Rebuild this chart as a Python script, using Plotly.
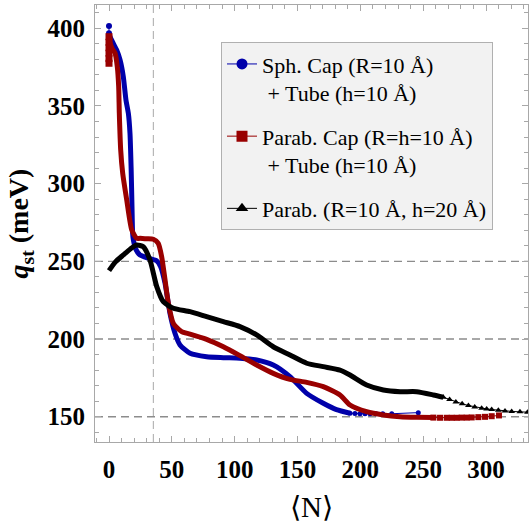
import plotly.graph_objects as go

# ---------------- data ----------------
# Sph. Cap (R=10 Å) + Tube (h=10 Å)  -- blue
blue_head_N = [0.0, 0.0]
blue_head_q = [401.5, 396.8]
blue_N = [0.0, 0.8, 3.4, 6.1, 8.8, 11.4, 13.5, 15.4, 16.7, 17.6, 18.3, 18.8, 19.4, 21.5,
          24.7, 31.3, 37.9, 41.1, 44.6, 48.5, 52.5, 56.5, 64.5, 77.7, 91.0, 104.2,
          117.5, 130.7, 144.0, 157.3, 170.5, 181.0, 191.8]
blue_q = [396.8, 394.6, 390.3, 386.0, 379.6, 368.8, 353.8, 345.3, 332.4, 310.0, 285.0,
          268.0, 263.7, 257.5, 254.0, 252.0, 250.4, 246.6, 235.9, 216.6, 203.7, 196.2,
          190.8, 188.6, 188.0, 187.6, 186.5, 183.3, 175.8, 165.0, 158.6, 154.5, 152.2]
blue_tail_N = [191.8, 195.7, 199.7, 203.7, 207.7, 212.5, 217.8, 225.0, 246.1]
blue_tail_q = [152.2, 152.0, 151.9, 151.9, 151.9, 151.9, 151.9, 151.9, 152.6]

# Parab. Cap (R=h=10 Å) + Tube (h=10 Å)  -- red
red_head_N = [0.0, 0.0, 0.0, 0.0, 0.0, 0.0]
red_head_q = [394.6, 391.0, 387.5, 384.0, 380.5, 377.5]
red_N = [0.3, 2.5, 4.8, 6.6, 7.7, 8.2, 9.3, 10.9, 14.1, 18.1, 22.0, 24.7, 30.0, 35.3,
         39.2, 41.9, 44.6, 47.2, 51.2, 57.8, 64.5, 77.7, 91.0, 104.2, 117.5, 130.7,
         144.0, 157.3, 170.5, 183.8, 191.8, 205.0, 218.3, 231.6, 244.8, 258.1]
red_q = [392.0, 387.0, 384.0, 375.3, 362.4, 345.3, 321.7, 306.7, 289.5, 270.2, 264.8,
         264.8, 264.5, 264.2, 261.6, 253.0, 238.0, 223.0, 210.0, 204.7, 203.2, 199.8,
         195.0, 189.3, 183.3, 177.9, 174.0, 172.1, 169.3, 164.0, 157.5, 153.2, 151.1,
         150.0, 149.6, 149.4]
red_tail_N = [258.1, 263.4, 268.7, 272.7, 276.7, 280.6, 284.6, 288.6, 293.9, 299.2,
              304.5, 310.3]
red_tail_q = [149.4, 149.3, 149.3, 149.3, 149.3, 149.4, 149.4, 149.5, 149.7, 149.9,
              150.3, 150.8]

# Parab. (R=10 Å, h=20 Å)  -- black
black_N = [0.0, 5.0, 11.4, 17.0, 22.0, 27.3, 32.6, 38.0, 43.2, 51.2, 64.5, 77.7, 91.0,
           104.2, 117.5, 130.7, 144.0, 157.3, 170.5, 183.8, 191.8, 205.0, 218.3, 231.6,
           244.8, 258.1, 266.0]
black_q = [244.0, 249.5, 254.1, 258.0, 260.5, 259.4, 250.9, 233.7, 224.0, 219.8, 217.6,
           214.4, 211.2, 208.0, 202.6, 195.0, 189.7, 184.4, 182.2, 180.0, 176.8, 170.4,
           167.2, 166.1, 166.1, 164.0, 162.5]
black_tail_N = [266.0, 271.0, 276.0, 281.0, 286.0, 291.0, 296.5, 300.5, 304.5, 309.8,
                315.1, 320.4, 327.0, 333.0]
black_tail_q = [162.5, 161.0, 159.5, 158.3, 157.2, 156.3, 155.5, 155.0, 154.6, 154.1,
                153.7, 153.4, 153.1, 152.9]

ref_q = [150, 200, 250]      # horizontal dashed reference lines
ref_N = 35.3                 # vertical dashed reference line

names = ["Sph. Cap (R=10 Å)<br>\u00a0+ Tube (h=10 Å)",
         "Parab. Cap (R=h=10 Å)<br>\u00a0+ Tube (h=10 Å)",
         "Parab. (R=10 Å, h=20 Å)"]
colors = ["#0000aa", "#990000", "#000000"]
symbols = ["circle", "square", "triangle-up"]

FONT = "Liberation Serif"

fig = go.Figure()

# reference lines
for q in ref_q:
    fig.add_shape(type="line", xref="paper", x0=0, x1=1, yref="y", y0=q, y1=q,
                  line=dict(color="#8c8c8c", width=1.4, dash="8px,5px"), layer="below")
fig.add_shape(type="line", xref="x", x0=ref_N, x1=ref_N, yref="paper", y0=0, y1=1,
              line=dict(color="#b0b0b0", width=1.1, dash="8px,5px"), layer="below")

series = [
    (blue_head_N, blue_head_q, blue_N, blue_q, blue_tail_N, blue_tail_q, 5),
    (red_head_N, red_head_q, red_N, red_q, red_tail_N, red_tail_q, 6),
    ([], [], black_N, black_q, black_tail_N, black_tail_q, 6),
]

for i, (hN, hq, bN, bq, tN, tq, ms) in enumerate(series):
    c = colors[i]
    # dense part (markers packed into a thick band)
    fig.add_trace(go.Scatter(x=bN, y=bq, mode="lines", showlegend=False,
                             line=dict(color=c, width=5, shape="spline", smoothing=0.6),
                             hoverinfo="skip"))
    # sparse tail: thin line + markers
    fig.add_trace(go.Scatter(x=tN, y=tq, mode="lines+markers", showlegend=False,
                             line=dict(color=c, width=1),
                             marker=dict(symbol=symbols[i], size=ms, color=c)))
    if hN:
        fig.add_trace(go.Scatter(x=hN, y=hq, mode="lines+markers", showlegend=False,
                                 line=dict(color=c, width=1),
                                 marker=dict(symbol=symbols[i], size=ms + 1, color=c)))
    # legend entry
    fig.add_trace(go.Scatter(x=[None], y=[None], mode="lines+markers", name=names[i],
                             legendgroup=f"g{i}",
                             line=dict(color=c, width=1),
                             marker=dict(symbol=symbols[i], size=11, color=c)))

axis_common = dict(
    showline=True, linecolor="#a8a8a8", linewidth=1, mirror="ticks",
    ticks="inside", ticklen=6, tickwidth=1, tickcolor="#a8a8a8",
    minor=dict(ticks="inside", ticklen=4, tickwidth=1, tickcolor="#a8a8a8", dtick=10),
    showgrid=False, zeroline=False, automargin=False,
    tickfont=dict(family=FONT, size=25, color="black", weight="bold"),
)

fig.update_layout(
    width=529, height=525,
    margin=dict(l=95, r=1, t=5, b=83, autoexpand=False),
    paper_bgcolor="white", plot_bgcolor="white",
    xaxis=dict(range=[-11.14, 333.4], tick0=0, dtick=50, ticklabelstandoff=5,
               title=dict(text="⟨N⟩", font=dict(family=FONT, size=29, color="black"),
                          standoff=14),
               **axis_common),
    yaxis=dict(range=[133.7, 415.0], tick0=0, dtick=50, ticklabelstandoff=4,
               title=dict(text="<i>q</i><sub>st</sub> (meV)",
                          font=dict(family=FONT, size=28, color="black", weight="bold"),
                          standoff=10),
               **axis_common),
    legend=dict(x=0.291, y=0.915, xanchor="left", yanchor="top",
                bgcolor="#f2f2f2", bordercolor="#b0b0b0", borderwidth=1,
                font=dict(family=FONT, size=22, color="black"),
                valign="top", tracegroupgap=12, itemwidth=30),
    showlegend=True,
)

fig.write_html("out.html", config={"displayModeBar": False},
               post_script="document.body.style.margin='0px';document.body.style.overflow='hidden';")
